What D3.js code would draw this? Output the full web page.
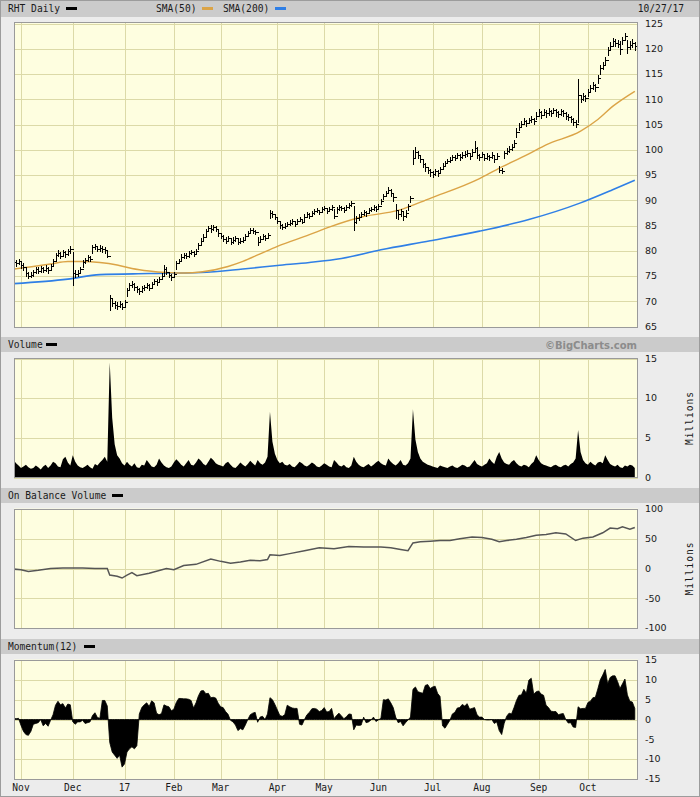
<!DOCTYPE html>
<html>
<head>
<meta charset="utf-8">
<script src="https://cdn.jsdelivr.net/npm/d3@7"></script>
<style>
  body { margin: 0; background: #fff; }
  svg { display: block; }
</style>
</head>
<body>
<svg id="chart"></svg>
<script>
(function(){
    "use strict";

    // ---- data ----
    const symbol = "RHT Daily";
    const lastDate = "10/27/17";
    const holidays = ["2016-11-24", "2016-12-26", "2017-01-02", "2017-01-16", "2017-02-20",
                      "2017-04-14", "2017-05-29", "2017-07-04", "2017-09-04"];
    const monthLabels = ["Nov", "Dec", "17", "Feb", "Mar", "Apr", "May", "Jun", "Jul", "Aug", "Sep", "Oct"];

    const close = [
        77.8, 77.6, 77.9, 77.2, 76.8, 75.6, 75.0, 75.3, 75.8, 76.4,
        76.0, 76.6, 76.2, 76.6, 76.2, 77.0, 78.0, 79.2, 79.6, 79.0,
        79.8, 79.3, 79.9, 80.3, 75.6, 75.4, 75.6, 76.4, 77.8, 78.2,
        78.8, 78.4, 80.8, 81.0, 80.4, 80.6, 80.4, 80.2, 79.0, 70.6,
        69.6, 69.2, 69.0, 69.4, 68.8, 69.8, 72.2, 73.2, 73.5, 72.8,
        72.4, 72.0, 72.6, 72.9, 73.2, 72.7, 73.5, 74.0, 73.8, 74.4,
        75.0, 76.5, 75.8, 75.2, 74.8, 75.5, 77.5, 78.0, 78.8, 79.2,
        79.0, 79.5, 79.8, 79.4, 80.0, 81.2, 82.0, 82.8, 84.0, 84.6,
        84.3, 84.8, 84.4, 83.6, 83.0, 82.4, 82.0, 82.5, 81.8, 82.2,
        82.6, 81.8, 82.0, 82.2, 83.0, 83.6, 84.2, 84.0, 83.8, 81.8,
        82.4, 83.0, 82.6, 83.2, 87.5, 87.2, 86.8, 86.0, 85.2, 84.8,
        85.0, 85.4, 85.6, 85.9, 85.4, 86.0, 86.3, 85.8, 86.8, 87.2,
        87.0, 87.5, 87.8, 88.0, 87.6, 88.2, 88.4, 87.9, 88.3, 88.6,
        87.0, 88.2, 88.6, 88.4, 88.0, 88.7, 89.0, 89.5, 85.8, 86.5,
        86.8, 87.2, 87.6, 87.4, 88.0, 88.3, 88.6, 88.2, 88.9, 89.8,
        90.8, 91.4, 92.0, 91.4, 90.6, 88.0, 87.2, 87.8, 87.0, 87.4,
        88.8, 90.4, 98.4, 99.6, 99.0, 98.2, 97.2, 96.6, 96.0, 95.6,
        95.2, 95.8, 95.4, 96.2, 96.8, 97.4, 97.8, 98.0, 98.6, 98.4,
        98.9, 98.6, 99.0, 99.2, 99.4, 98.8, 99.6, 100.4, 99.0, 98.6,
        99.2, 98.4, 98.8, 98.5, 99.0, 98.2, 98.8, 96.0, 95.8, 99.4,
        99.8, 100.2, 100.6, 101.4, 103.6, 104.6, 105.2, 105.8, 105.4, 105.9,
        106.2, 105.8, 106.8, 107.4, 107.0, 107.5, 107.2, 107.6, 107.3, 107.8,
        107.4, 107.1, 107.6, 107.3, 106.8, 106.5, 106.2, 105.6, 105.2, 110.8,
        110.0, 110.6, 110.2, 111.4, 112.2, 112.8, 112.4, 114.2, 116.2, 116.8,
        117.8, 119.8, 120.6, 121.6, 121.2, 121.0, 120.0, 121.8, 122.6, 120.4,
        120.8, 121.2, 120.6
    ];
    const high = [
        78.4, 78.2, 78.3, 77.9, 77.5, 76.6, 75.8, 75.9, 76.3, 76.9,
        76.8, 77.0, 76.9, 77.1, 76.8, 77.4, 78.4, 79.5, 80.1, 79.8,
        80.2, 80.0, 80.4, 80.9, 79.8, 76.2, 76.3, 76.9, 78.2, 78.6,
        79.2, 79.0, 81.1, 81.4, 81.0, 81.1, 80.9, 80.8, 80.1, 71.2,
        70.5, 70.0, 69.8, 70.0, 69.6, 70.3, 72.6, 73.6, 74.0, 73.6,
        73.0, 72.6, 73.0, 73.3, 73.6, 73.4, 73.9, 74.5, 74.4, 74.8,
        75.6, 77.2, 76.8, 75.9, 75.4, 75.9, 77.9, 78.4, 79.3, 79.6,
        79.6, 79.9, 80.2, 80.0, 80.4, 81.6, 82.5, 83.3, 84.4, 85.0,
        85.1, 85.2, 84.9, 84.3, 83.6, 83.1, 82.7, 82.9, 82.6, 82.7,
        83.0, 82.5, 82.5, 82.7, 83.3, 84.0, 84.5, 84.6, 84.2, 82.7,
        82.9, 83.4, 83.2, 83.6, 88.0, 87.9, 87.3, 86.6, 85.8, 85.3,
        85.5, 85.8, 86.1, 86.3, 86.0, 86.4, 86.7, 86.4, 87.2, 87.6,
        87.5, 87.9, 88.2, 88.4, 88.1, 88.6, 88.8, 88.5, 88.7, 89.0,
        88.3, 88.6, 89.0, 88.9, 88.6, 89.1, 89.4, 89.9, 88.9, 86.9,
        87.3, 87.6, 88.0, 87.9, 88.4, 88.7, 89.0, 88.8, 89.3, 90.2,
        91.2, 91.8, 92.6, 92.2, 91.3, 89.2, 88.0, 88.3, 87.8, 88.0,
        89.2, 90.9, 100.0, 100.6, 99.8, 99.0, 98.0, 97.3, 96.7, 96.2,
        95.8, 96.3, 96.0, 96.7, 97.3, 97.8, 98.2, 98.5, 99.0, 98.9,
        99.4, 99.1, 99.5, 99.7, 99.9, 99.3, 100.2, 101.8, 100.5, 99.1,
        99.6, 99.0, 99.3, 99.0, 99.5, 98.8, 99.3, 96.8, 96.5, 99.8,
        100.3, 100.7, 101.2, 102.0, 104.4, 105.3, 105.7, 106.3, 106.0, 106.4,
        106.8, 106.4, 107.5, 108.0, 107.6, 108.1, 107.8, 108.2, 107.9, 108.3,
        108.0, 107.7, 108.1, 107.9, 107.4, 107.1, 106.8, 106.3, 105.9, 114.0,
        110.9, 111.2, 110.9, 112.0, 112.8, 113.4, 113.1, 114.8, 116.8, 117.4,
        118.4, 120.3, 121.4, 122.2, 121.9, 121.7, 121.6, 122.4, 123.2, 121.7,
        121.5, 121.9, 121.4
    ];
    const low = [
        77.2, 77.0, 77.3, 76.7, 76.2, 75.0, 74.6, 74.8, 75.1, 75.6,
        75.6, 75.9, 75.8, 76.0, 75.7, 76.2, 77.1, 78.2, 79.0, 78.6,
        79.0, 78.8, 79.2, 79.6, 73.3, 74.9, 75.0, 75.8, 76.9, 77.6,
        78.0, 77.9, 79.6, 80.4, 79.9, 79.9, 79.8, 79.6, 78.7, 68.3,
        69.0, 68.6, 68.5, 68.8, 68.4, 68.9, 71.0, 72.4, 72.8, 72.3,
        71.9, 71.5, 71.9, 72.3, 72.6, 72.2, 72.8, 73.4, 73.3, 73.8,
        74.5, 75.0, 75.4, 74.8, 74.3, 74.9, 76.4, 77.5, 77.9, 78.6,
        78.6, 78.8, 79.3, 79.0, 79.3, 80.3, 81.3, 81.9, 83.0, 83.9,
        83.8, 84.2, 83.9, 83.0, 82.6, 82.0, 81.6, 81.9, 81.4, 81.6,
        82.0, 81.4, 81.6, 81.8, 82.3, 83.1, 83.7, 83.6, 83.3, 81.2,
        81.8, 82.3, 82.2, 82.6, 86.6, 86.8, 86.3, 85.5, 84.6, 84.3,
        84.6, 84.9, 85.1, 85.4, 85.0, 85.6, 85.9, 85.5, 86.0, 86.7,
        86.6, 86.9, 87.3, 87.6, 87.2, 87.7, 88.0, 87.5, 87.8, 88.1,
        86.5, 87.4, 88.1, 88.0, 87.6, 88.2, 88.5, 88.9, 84.2, 85.6,
        86.2, 86.7, 87.1, 86.9, 87.4, 87.8, 88.1, 87.8, 88.3, 89.2,
        90.2, 90.8, 91.4, 90.9, 89.8, 86.6, 86.4, 87.0, 86.2, 86.8,
        88.0, 89.6, 97.2, 98.5, 98.4, 97.5, 96.7, 95.9, 95.5, 94.9,
        94.6, 95.1, 94.9, 95.6, 96.2, 96.9, 97.3, 97.5, 98.0, 97.9,
        98.3, 98.0, 98.4, 98.6, 98.8, 98.2, 99.0, 99.6, 98.4, 98.0,
        98.6, 97.9, 98.2, 97.9, 98.4, 97.6, 98.1, 95.7, 95.4, 98.4,
        99.2, 99.6, 100.0, 100.8, 102.5, 103.9, 104.6, 105.1, 104.8, 105.3,
        105.6, 105.2, 106.2, 106.8, 106.4, 106.9, 106.6, 107.0, 106.7, 107.2,
        106.8, 106.5, 107.0, 106.7, 106.2, 105.9, 105.6, 105.0, 104.6, 105.5,
        109.4, 109.8, 109.6, 110.7, 111.4, 112.0, 111.7, 113.2, 115.0, 116.0,
        117.0, 118.7, 119.9, 120.8, 120.5, 120.3, 119.0, 120.9, 121.8, 119.2,
        119.9, 120.4, 119.8
    ];
    // the 12 closes before the first bar, needed for Momentum(12)
    const preClose = [77.5, 77.4, 77.6, 78.7, 79.8, 79.4, 79.0, 78.3, 77.0, 77.4, 76.8, 76.6];

    // moving averages, read at sample bars (bar index, value)
    const smaIdx50 = [0, 8, 15, 22, 28, 35, 42, 48, 55, 62, 69, 76, 87, 93, 100, 107, 120, 128, 142, 156, 169, 189, 196, 209, 216, 230, 237, 243, 252];
    const sma50 = [76.4, 76.9, 77.4, 77.9, 77.9, 77.7, 77.2, 76.5, 76.0, 75.7, 75.6, 75.8, 76.9, 77.9, 79.4, 80.9, 83.2, 84.7, 86.8, 88.0, 90.4, 94.3, 96.1, 99.2, 101.0, 103.7, 106.0, 108.6, 111.6];
    const smaIdx200 = [0, 22, 35, 55, 76, 93, 107, 120, 133, 149, 169, 189, 209, 230, 243, 252];
    const sma200 = [73.5, 74.4, 75.3, 75.5, 75.7, 76.4, 77.1, 77.7, 78.5, 80.2, 82.0, 83.9, 86.2, 89.5, 92.1, 94.0];

    // daily volume, millions
    const volume = [
        2.2, 1.8, 1.5, 1.2, 1.4, 1.6, 1.3, 1.1, 1.2, 1.5, 1.3, 1.0, 1.4,
        1.6, 1.2, 1.5, 2.0, 1.8, 1.4, 1.3, 2.3, 2.6, 1.9, 1.5, 2.8,
        2.0, 1.5, 1.3, 1.2, 1.4, 1.6, 1.3, 1.1, 1.7, 1.5, 1.9, 2.2, 2.6, 2.0,
        14.5, 7.5, 4.2, 2.8, 2.4, 1.8, 1.5,
        2.0, 1.6, 1.4, 1.8, 1.3, 1.2, 1.6, 1.5, 2.2, 1.8, 1.4, 1.3, 1.6, 2.4, 1.9, 1.5, 1.3, 1.2, 1.4,
        1.9, 2.3, 2.0, 1.6, 1.4, 1.8, 2.2, 1.6, 1.5, 1.9, 2.4, 2.1, 1.7, 1.5, 2.0, 2.5, 2.2, 1.8, 1.6,
        1.5, 1.4, 1.8, 2.0, 1.6, 1.3, 1.2, 1.5, 1.9, 1.6, 1.4, 1.7, 2.1, 1.8, 1.5, 2.2, 1.8, 1.6, 1.9, 2.6,
        8.3, 4.5, 3.0, 2.2, 1.8, 2.0, 1.6,
        1.5, 1.7, 1.4, 1.3, 1.6, 2.0, 1.8, 1.5, 1.4, 1.6,
        1.9, 1.7, 1.4, 1.3, 1.5, 1.8, 1.6, 1.4, 1.3, 2.2,
        1.9, 1.5, 1.4, 1.6, 1.3, 1.2, 1.5, 2.6, 2.0, 1.6,
        1.4, 1.3, 1.5, 1.7, 1.4, 1.6, 1.9, 2.1, 1.8, 1.6,
        1.5, 2.4, 2.0, 1.7, 1.5, 1.8, 2.2, 1.6, 1.5, 1.8, 2.4,
        8.6, 4.8, 3.2, 2.4, 2.0, 1.8, 1.6, 1.5, 1.4,
        1.3, 1.2, 1.5, 1.4, 1.3, 1.2, 1.4, 1.5, 1.3, 1.2,
        1.4, 1.6, 1.5, 1.3, 1.4, 1.8, 2.2, 1.7, 1.5, 1.4,
        1.6, 1.8, 2.4, 2.0, 1.7, 2.6, 3.2, 2.4, 1.9, 1.7,
        1.6, 2.0, 2.2, 1.8, 1.5, 1.4, 1.6, 1.5, 1.3, 1.7,
        2.0, 2.8, 2.2, 1.8, 1.6, 1.5, 1.4, 1.3, 1.5, 1.6,
        1.4, 1.3, 1.5, 1.6, 1.4, 1.7, 1.9, 2.4,
        6.0, 3.2, 2.2, 1.8, 1.6, 2.0, 1.7, 1.5, 1.9,
        2.0, 1.8, 2.8, 2.2, 1.7, 1.5, 1.4, 1.6, 1.3, 1.2, 1.5, 1.4, 1.6, 1.5, 1.2
    ];

    // on balance volume, millions (bar index, value)
    const obvIdx = [0, 3, 6, 10, 15, 20, 28, 33, 38, 39, 42, 44, 46, 48, 50, 55, 62, 65, 69, 74, 80, 84, 88, 92, 96, 100, 103, 104, 108, 112, 118, 124, 130, 136, 142, 149, 153, 157, 160, 162, 165, 169, 173, 177, 181, 186, 190, 194, 197, 200, 204, 208, 212, 216, 220, 224, 228, 231, 235, 239, 242, 245, 247, 250, 252];
    const obvVal = [-1, -2, -5, -3, 0, 1, 1, 0, 0, -11, -13, -16, -11, -7, -12, -8, 0, -2, 5, 7, 16, 12, 9, 11, 14, 13, 15, 23, 22, 25, 30, 35, 33, 37, 36, 36, 35, 32, 30, 43, 45, 46, 47, 47, 50, 53, 52, 49, 45, 47, 49, 52, 56, 57, 60, 58, 47, 51, 53, 60, 68, 67, 70, 66, 69];

    // ---- layout ----
    const W = 700, H = 797;
    const left = 14, right = 638;
    const colors = {
        page: "#ececec", band: "#cbcbcb", plot: "#fefee0", grid: "#dcdaa8",
        border: "#9a9a9a", text: "#1a1a1a", sma50: "#dba447", sma200: "#2f7fe6"
    };

    // trading days
    const fmt = d3.timeFormat("%Y-%m-%d");
    const days = d3.timeDay.range(new Date(2016, 9, 27), new Date(2017, 9, 28))
        .filter(d => d.getDay() % 6 !== 0 && holidays.indexOf(fmt(d)) < 0);
    const monthIdx = [];
    days.forEach((d, i) => { if (i > 0 && d.getMonth() !== days[i - 1].getMonth()) monthIdx.push(i); });

    const x = d3.scaleLinear().domain([0.16, 253.3]).range([left, right]);

    const svg = d3.select("#chart").attr("width", W).attr("height", H)
        .style("font-family", "'DejaVu Sans Mono', monospace");

    svg.append("rect").attr("width", W).attr("height", H).attr("fill", colors.page);
    svg.append("rect").attr("x", 0.5).attr("y", 0.5).attr("width", W - 1).attr("height", H - 1)
        .attr("fill", "none").attr("stroke", "#9c9c9c");

    const panels = [
        { key: "price", band: [1, 17], top: 22, bottom: 328, domain: [65, 125], range: [326.6, 23.6], ticks: d3.range(65, 126, 5) },
        { key: "vol", band: [337, 352], top: 358, bottom: 478, domain: [0, 15], range: [477.5, 358.5], ticks: [0, 5, 10, 15] },
        { key: "obv", band: [488, 503], top: 508.5, bottom: 628.5, domain: [-100, 100], range: [628, 509], ticks: [-100, -50, 0, 50, 100] },
        { key: "mom", band: [639, 654], top: 659.5, bottom: 779.5, domain: [-15, 15], range: [779, 660], ticks: [-15, -10, -5, 0, 5, 10, 15] }
    ];

    panels.forEach(p => {
        p.y = d3.scaleLinear().domain(p.domain).range(p.range);
        svg.append("rect").attr("x", 1).attr("y", p.band[0]).attr("width", W - 2)
            .attr("height", p.band[1] - p.band[0]).attr("fill", colors.band);
        svg.append("rect").attr("x", left).attr("y", p.top).attr("width", right - left)
            .attr("height", p.bottom - p.top).attr("fill", colors.plot);

        const g = svg.append("g").attr("shape-rendering", "crispEdges");
        g.selectAll("line.h").data(p.ticks).join("line")
            .attr("x1", left).attr("x2", right)
            .attr("y1", d => Math.round(p.y(d)) + 0.5).attr("y2", d => Math.round(p.y(d)) + 0.5)
            .attr("stroke", colors.grid).attr("stroke-width", 1.4);
        g.selectAll("line.v").data(monthIdx).join("line")
            .attr("x1", d => Math.round(x(d)) + 0.5).attr("x2", d => Math.round(x(d)) + 0.5)
            .attr("y1", p.top).attr("y2", p.bottom)
            .attr("stroke", colors.grid).attr("stroke-width", 1.4);

        // right axis labels
        svg.append("g").selectAll("text").data(p.ticks).join("text")
            .attr("x", 645).attr("y", d => p.y(d)).attr("dy", "0.35em")
            .attr("font-family", "'DejaVu Sans', sans-serif").attr("font-size", 9.5)
            .attr("fill", colors.text).text(d => d);

        svg.append("clipPath").attr("id", "clip-" + p.key)
            .append("rect").attr("x", left).attr("y", p.top).attr("width", right - left).attr("height", p.bottom - p.top);
        p.layer = svg.append("g").attr("clip-path", `url(#clip-${p.key})`);
    });

    const [pp, vp, op, mp] = panels;

    // ---- price: moving averages then OHLC bars ----
    pp.layer.append("path")
        .attr("d", d3.line().curve(d3.curveMonotoneX).x(d => x(d[0])).y(d => pp.y(d[1]))(smaIdx200.map((d, i) => [d, sma200[i]])))
        .attr("fill", "none").attr("stroke", colors.sma200).attr("stroke-width", 1.6);
    pp.layer.append("path")
        .attr("d", d3.line().curve(d3.curveMonotoneX).x(d => x(d[0])).y(d => pp.y(d[1]))(smaIdx50.map((d, i) => [d, sma50[i]])))
        .attr("fill", "none").attr("stroke", colors.sma50).attr("stroke-width", 1.4);

    // open tick uses the previous close
    const bars = pp.layer.append("g").attr("stroke", "#000").attr("stroke-width", 1).attr("shape-rendering", "crispEdges");
    close.forEach((c, i) => {
        const bx = Math.round(x(i)) + 0.5;
        const open = i > 0 ? close[i - 1] : preClose[11];
        const yo = Math.round(pp.y(open)) + 0.5, yc = Math.round(pp.y(c)) + 0.5;
        bars.append("line").attr("x1", bx).attr("x2", bx)
            .attr("y1", Math.round(pp.y(high[i]))).attr("y2", Math.round(pp.y(low[i])) + 1);
        bars.append("line").attr("x1", bx - 2).attr("x2", bx).attr("y1", yo).attr("y2", yo);
        bars.append("line").attr("x1", bx).attr("x2", bx + 2).attr("y1", yc).attr("y2", yc);
    });

    // ---- volume ----
    vp.layer.append("path")
        .attr("d", d3.area().x((d, i) => x(i)).y0(vp.y(0)).y1(d => vp.y(d))(volume))
        .attr("fill", "#000");

    // ---- on balance volume ----
    op.layer.append("path")
        .attr("d", d3.line().x(d => x(d[0])).y(d => op.y(d[1]))(obvIdx.map((d, i) => [d, obvVal[i]])))
        .attr("fill", "none").attr("stroke", "#555").attr("stroke-width", 1.5);

    // ---- momentum(12) = close - close 12 bars back ----
    const momentum = close.map((c, i) => c - (i >= 12 ? close[i - 12] : preClose[i]));
    mp.layer.append("path")
        .attr("d", d3.area().x((d, i) => x(i)).y0(mp.y(0)).y1(d => mp.y(d))(momentum))
        .attr("fill", "#000").attr("stroke", "#000").attr("stroke-width", 0.8);

    // ---- band titles and legends ----
    const titles = [
        { t: symbol, x: 8, y: 12, kx: 66 },
        { t: "Volume", x: 8, y: 348, kx: 46 },
        { t: "On Balance Volume", x: 8, y: 499, kx: 112 },
        { t: "Momentum(12)", x: 8, y: 650, kx: 84 }
    ];
    titles.forEach(d => {
        svg.append("text").attr("x", d.x).attr("y", d.y).attr("font-size", 9.6).attr("fill", colors.text).text(d.t);
        svg.append("rect").attr("x", d.kx).attr("y", d.y - 5).attr("width", 11).attr("height", 3).attr("fill", "#000");
    });
    svg.append("text").attr("x", 156).attr("y", 12).attr("font-size", 9.6).attr("fill", colors.text).text("SMA(50)");
    svg.append("rect").attr("x", 202).attr("y", 7).attr("width", 11).attr("height", 3).attr("fill", colors.sma50);
    svg.append("text").attr("x", 223).attr("y", 12).attr("font-size", 9.6).attr("fill", colors.text).text("SMA(200)");
    svg.append("rect").attr("x", 275).attr("y", 7).attr("width", 11).attr("height", 3).attr("fill", colors.sma200);
    svg.append("text").attr("x", 684).attr("y", 12).attr("text-anchor", "end").attr("font-size", 9.6)
        .attr("fill", colors.text).text(lastDate);
    svg.append("text").attr("x", 637).attr("y", 349).attr("text-anchor", "end")
        .attr("font-family", "'DejaVu Sans', sans-serif").attr("font-weight", "bold").attr("font-size", 10)
        .attr("fill", "#8c8c8c").text("\u00a9BigCharts.com");

    // "Millions" on the right of volume and OBV panels
    [vp, op].forEach(p => {
        const cy = (p.top + p.bottom) / 2;
        svg.append("text").attr("transform", `translate(693,${cy}) rotate(-90)`)
            .attr("text-anchor", "middle").attr("font-size", 9.6).attr("letter-spacing", 1)
            .attr("fill", colors.text).text("Millions");
    });

    // month labels along the bottom
    svg.append("g").selectAll("text").data(monthIdx).join("text")
        .attr("x", d => x(d)).attr("y", 791).attr("text-anchor", "middle")
        .attr("font-size", 9.6).attr("fill", colors.text)
        .text((d, i) => monthLabels[i]);

    // plot frames
    panels.forEach(p => {
        svg.append("rect").attr("x", left + 0.5).attr("y", Math.round(p.top) + 0.5)
            .attr("width", right - left - 1).attr("height", Math.round(p.bottom - p.top) - 1)
            .attr("fill", "none").attr("stroke", colors.border).attr("shape-rendering", "crispEdges");
    });
})();
</script>
</body>
</html>
